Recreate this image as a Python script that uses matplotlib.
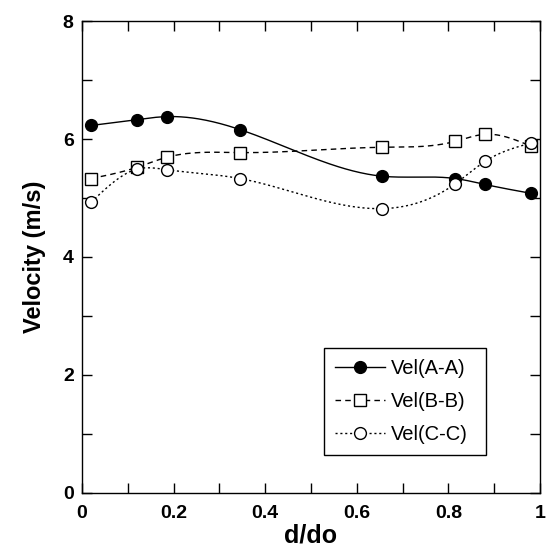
import numpy as np
import matplotlib
matplotlib.use("Agg")
import matplotlib.pyplot as plt
from matplotlib.ticker import MultipleLocator, FuncFormatter

x = [0.02, 0.12, 0.185, 0.345, 0.655, 0.815, 0.88, 0.98]
vel_a = [6.23, 6.33, 6.38, 6.16, 5.37, 5.33, 5.23, 5.08]
vel_b = [5.33, 5.52, 5.69, 5.77, 5.86, 5.96, 6.08, 5.88]
vel_c = [4.93, 5.49, 5.48, 5.33, 4.82, 5.24, 5.62, 5.93]
labels = ["Vel(A-A)", "Vel(B-B)", "Vel(C-C)"]


def natural_spline(xp, yp, n=300):
    xp = np.asarray(xp, float)
    yp = np.asarray(yp, float)
    m = len(xp)
    h = np.diff(xp)
    A = np.zeros((m, m))
    r = np.zeros(m)
    A[0, 0] = 1
    A[-1, -1] = 1
    for i in range(1, m - 1):
        A[i, i - 1] = h[i - 1]
        A[i, i] = 2 * (h[i - 1] + h[i])
        A[i, i + 1] = h[i]
        r[i] = 6 * ((yp[i + 1] - yp[i]) / h[i] - (yp[i] - yp[i - 1]) / h[i - 1])
    M = np.linalg.solve(A, r)
    xs = np.linspace(xp[0], xp[-1], n)
    idx = np.clip(np.searchsorted(xp, xs) - 1, 0, m - 2)
    x0, x1 = xp[idx], xp[idx + 1]
    hh = x1 - x0
    a = (x1 - xs) / hh
    b = (xs - x0) / hh
    ys = (a * yp[idx] + b * yp[idx + 1]
          + ((a ** 3 - a) * M[idx] + (b ** 3 - b) * M[idx + 1]) * hh ** 2 / 6)
    return xs, ys


plt.rcParams['font.family'] = ['Liberation Sans', 'DejaVu Sans']
fig = plt.figure(figsize=(5.47, 5.55), dpi=100)
ax = fig.add_axes([0.150, 0.112, 0.837, 0.850])

styles = [
    dict(ls='-', marker='o', mfc='black', mec='black', ms=8.5),
    dict(ls=(0, (4, 3)), marker='s', mfc='white', mec='black', ms=8.5),
    dict(ls=(0, (1.5, 2)), marker='o', mfc='white', mec='black', ms=8.5),
]
for ys, st, lab in zip([vel_a, vel_b, vel_c], styles, labels):
    xs, yy = natural_spline(x, ys)
    ax.plot(xs, yy, color='black', lw=1.0, ls=st['ls'])
    ax.plot(x, ys, ls='none', marker=st['marker'], mfc=st['mfc'],
            mec=st['mec'], ms=st['ms'], mew=1.0)
    ax.plot([], [], color='black', lw=1.0, ls=st['ls'], marker=st['marker'],
            mfc=st['mfc'], mec=st['mec'], ms=st['ms'], label=lab)

ax.set_xlim(0, 1)
ax.set_ylim(0, 8)
ax.xaxis.set_major_locator(MultipleLocator(0.2))
ax.xaxis.set_minor_locator(MultipleLocator(0.1))
ax.yaxis.set_major_locator(MultipleLocator(2))
ax.yaxis.set_minor_locator(MultipleLocator(1))
ax.xaxis.set_major_formatter(FuncFormatter(lambda v, p: f"{v:g}"))
ax.yaxis.set_major_formatter(FuncFormatter(lambda v, p: f"{v:g}"))
ax.tick_params(which='both', direction='in', top=True, right=True,
               length=7, width=1.0, labelsize=14, pad=6)
ax.tick_params(axis='x', which='both', pad=9)
for lab in ax.get_xticklabels() + ax.get_yticklabels():
    lab.set_fontweight('bold')
for s in ax.spines.values():
    s.set_linewidth(1.0)

ax.set_xlabel("d/do", fontsize=18, fontweight='bold', labelpad=1)
ax.set_ylabel("Velocity (m/s)", fontsize=17, fontweight='bold', labelpad=12)

leg = ax.legend(loc='lower left', bbox_to_anchor=(0.528, 0.08, 0.354, 0.227),
                mode='expand', fancybox=False, edgecolor='black', fontsize=14.5,
                handlelength=2.5, handletextpad=0.3, borderaxespad=0,
                borderpad=0.55, labelspacing=0.7, framealpha=1)
leg.get_frame().set_linewidth(1.0)

fig.savefig("out.png", dpi=100)
